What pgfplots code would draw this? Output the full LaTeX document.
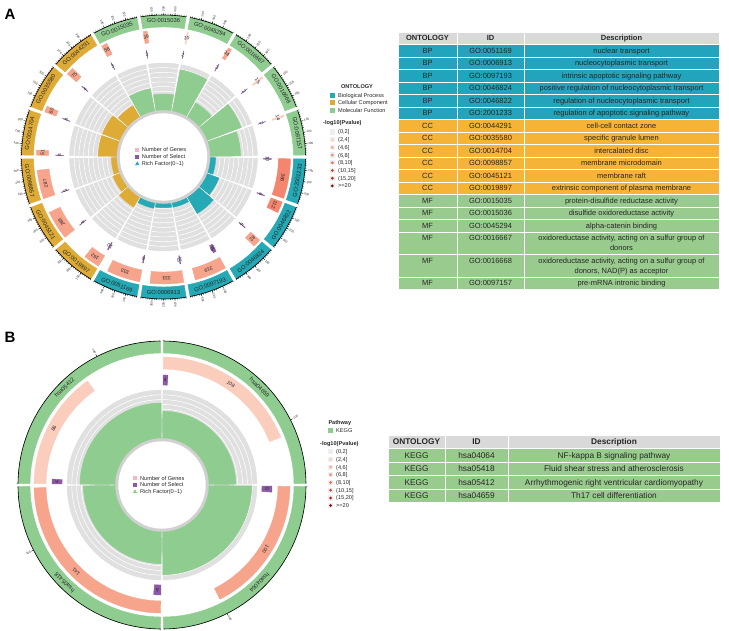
\documentclass[border=0pt]{standalone}
\usepackage{pgfplots}
\pgfplotsset{compat=1.18}
\usepackage{pgfplotstable}
\usepackage{fontspec}
\setmainfont{Liberation Sans}

% ---------- colours ----------
\definecolor{bpC}{HTML}{24A9B5}
\definecolor{ccC}{HTML}{DEAB36}
\definecolor{mfC}{HTML}{8FCC90}
\definecolor{bpT}{HTML}{22A4BC}
\definecolor{ccT}{HTML}{F5B437}
\definecolor{mfT}{HTML}{9ACB8E}
\definecolor{selC}{HTML}{8C59A6}
\definecolor{ringbg}{HTML}{E0E0E0}
\definecolor{rimC}{HTML}{D0D0D0}
\definecolor{hdr}{HTML}{D9D9D9}
\definecolor{keybg}{HTML}{EFEFEF}
\definecolor{genesKey}{HTML}{F5B6C4}
\definecolor{txt}{HTML}{262626}
\definecolor{pA}{HTML}{FCE6DF}
\definecolor{pB}{HTML}{FBCDBD}
\definecolor{pC}{HTML}{F7A48D}
\definecolor{pD}{HTML}{F4866F}
\definecolor{pE}{HTML}{EE6950}
\definecolor{pF}{HTML}{E03B30}
\definecolor{pG}{HTML}{BF1A20}
\definecolor{pH}{HTML}{7D0C16}

% ---------- fonts ----------
\newcommand\ringfont{\fontsize{5}{6}\selectfont}
\newcommand\idfont{\fontsize{5.8}{7}\selectfont}
\newcommand\tickfont{\fontsize{3}{3.5}\selectfont}
\newcommand\legfont{\fontsize{5.6}{6.5}\selectfont}
\newcommand\legtitle{\fontsize{5.6}{6.5}\selectfont\bfseries}
\newcommand\tabA{\fontsize{7.5}{9}\selectfont}
\newcommand\tabB{\fontsize{8.3}{10}\selectfont}

% ---------- helpers ----------
\pgfdeclareplotmark{nothing}{}
\pgfplotsset{ringbase/.style={scatter, only marks, mark=nothing,
    scatter/@post marker code/.code={}}}

% annular sector around the current origin: colour, start, end angle, inner r, outer r (pt)
\newcommand\annulus[5]{%
  \fill[#1] (#2:#4 pt) arc[start angle=#2,end angle=#3,radius=#4 pt]
    -- (#3:#5 pt) arc[start angle=#3,end angle=#2,radius=#5 pt] -- cycle;}
\newcommand\annulusd[5]{%
  \filldraw[#1,line width=0.35pt] (#2:#4 pt) arc[start angle=#2,end angle=#3,radius=#4 pt]
    -- (#3:#5 pt) arc[start angle=#3,end angle=#2,radius=#5 pt] -- cycle;}
% colour names from the numeric codes of the table
\newcommand\ontcolour[1]{\pgfmathtruncatemacro\oci{#1}%
  \ifcase\oci\or\def\vC{bpC}\or\def\vC{ccC}\or\def\vC{mfC}\fi}
\newcommand\pcolour[1]{\pgfmathtruncatemacro\pci{#1}%
  \ifcase\pci\or\def\vP{pA}\or\def\vP{pB}\or\def\vP{pC}\or\def\vP{pD}%
  \or\def\vP{pE}\or\def\vP{pF}\or\def\vP{pG}\or\def\vP{pH}\fi}

% the four tracks of a circular enrichment plot, drawn from one table
\newcommand\circos[1]{%
  % rich factor track (grey scale band, bar on top)
  \addplot[ringbase,
    visualization depends on={\thisrow{c}\as\vT},
    visualization depends on={\thisrow{rf}\as\vF},
    visualization depends on={\thisrow{oc}\as\vO},
    scatter/@pre marker code/.code={%
      \pgfkeys{/pgf/fpu=false}%
      \ontcolour{\vO}%
      \pgfmathsetmacro\vR{\rA+\vF*(\rB-\rA)}%
      \pgfmathsetmacro\aS{\vT+\hs}\pgfmathsetmacro\aE{\vT-\hs}%
      \pgfmathsetmacro\wS{\vT+\hw}\pgfmathsetmacro\wE{\vT-\hw}%
      \pgfscope
      \pgftransformshift{\pgfpointpolar{\vT}{-\vR pt}}%
      \annulus{rimC}{\wS}{\wE}{\rimA}{\rA}%
      \annulus{ringbg}{\aS}{\aE}{\rA}{\rB}%
      \foreach \jj in {1,...,9}{%
        \pgfmathsetmacro\rr{\rA+\jj*(\rB-\rA)/10}%
        \draw[white,line width=0.55pt] (\aS:\rr pt) arc[start angle=\aS,end angle=\aE,radius=\rr pt];}%
      \annulus{\vC}{\aS}{\aE}{\rA}{\vR}%
      \endpgfscope}]
    table[x expr={(\rA+\thisrow{rf}*(\rB-\rA))*cos(\thisrow{c})},
          y expr={(\rA+\thisrow{rf}*(\rB-\rA))*sin(\thisrow{c})}] {#1};
  % number of select track
  \addplot[ringbase,
    visualization depends on={\thisrow{c}\as\vT},
    visualization depends on={\thisrow{sel}\as\vS},
    scatter/@pre marker code/.code={%
      \pgfkeys{/pgf/fpu=false}%
      \pgfmathtruncatemacro\slab{\vS}%
      \pgfmathsetmacro\aS{\vT+\hs}\pgfmathsetmacro\aE{\aS-\vS*\kd}%
      \pgfmathsetmacro\aM{(\aS+\aE)/2}\pgfmathsetmacro\rM{(\sA+\sB)/2}%
      \pgfmathsetmacro\rot{\aM-90}%
      \pgfscope
      \pgftransformshift{\pgfpointpolar{\aM}{-\rM pt}}%
      \annulusd{selC}{\aS}{\aE}{\sA}{\sB}%
      \node[font=\ringfont,text=txt,rotate=\rot,inner sep=0pt] at (\aM:\rM pt) {\slab};
      \endpgfscope}]
    table[x expr={(\sA+\sB)/2*cos(\thisrow{c}+\hs-\thisrow{sel}*\kd/2)},
          y expr={(\sA+\sB)/2*sin(\thisrow{c}+\hs-\thisrow{sel}*\kd/2)}] {#1};
  % number of genes track
  \addplot[ringbase,
    visualization depends on={\thisrow{c}\as\vT},
    visualization depends on={\thisrow{genes}\as\vG},
    visualization depends on={\thisrow{pc}\as\vQ},
    scatter/@pre marker code/.code={%
      \pgfkeys{/pgf/fpu=false}%
      \pcolour{\vQ}%
      \pgfmathtruncatemacro\glab{\vG}%
      \pgfmathsetmacro\aS{\vT+\hs}\pgfmathsetmacro\aE{\aS-\vG*\kd}%
      \pgfmathsetmacro\aM{(\aS+\aE)/2}\pgfmathsetmacro\rM{(\gA+\gB)/2}%
      \pgfmathsetmacro\rot{\aM-90}%
      \pgfscope
      \pgftransformshift{\pgfpointpolar{\aM}{-\rM pt}}%
      \annulus{\vP}{\aS}{\aE}{\gA}{\gB}%
      \node[font=\ringfont,text=txt,rotate=\rot,inner sep=0pt] at (\aM:\rM pt) {\glab};
      \endpgfscope}]
    table[x expr={(\gA+\gB)/2*cos(\thisrow{c}+\hs-\thisrow{genes}*\kd/2)},
          y expr={(\gA+\gB)/2*sin(\thisrow{c}+\hs-\thisrow{genes}*\kd/2)}] {#1};
  % outer category track with its gene-count ruler; the term ID is the point meta
  \addplot[ringbase, point meta=explicit symbolic,
    visualization depends on={\thisrow{c}\as\vT},
    visualization depends on={\thisrow{oc}\as\vO},
    scatter/@pre marker code/.code={%
      \pgfkeys{/pgf/fpu=false}%
      \ontcolour{\vO}%
      \pgfmathsetmacro\aS{\vT+\hs}\pgfmathsetmacro\aE{\vT-\hs}%
      \pgfmathsetmacro\rM{(\oA+\oB)/2}%
      \pgfmathsetmacro\rTa{\oB+1.3}\pgfmathsetmacro\rTb{\oB+2.4}\pgfmathsetmacro\rTc{\oB+3.2}%
      \pgfmathsetmacro\sn{sin(\vT)}%
      \pgfmathsetmacro\rot{\vT-90}%
      \ifnum\flipid=1 \ifdim\sn pt<0pt \pgfmathsetmacro\rot{\vT+90}\fi\fi
      \pgfscope
      \pgftransformshift{\pgfpointpolar{\vT}{-\rM pt}}%
      \annulus{\vC}{\aS}{\aE}{\oA}{\oB}%
      \node[font=\idfont,text=txt,rotate=\rot,inner sep=0pt] at (\vT:\rM pt) {\pgfplotspointmeta};
      \draw[black,line width=0.6pt] (\aS:\oB pt) arc[start angle=\aS,end angle=\aE,radius=\oB pt];
      \foreach \jj in {0,...,\nmin}{%
        \pgfmathsetmacro\tka{\aS-\jj*\minstep*\kd}%
        \draw[black,line width=0.3pt] (\tka:\oB pt) -- (\tka:\rTa pt);}%
      \foreach \mm in \majlist{%
        \pgfmathsetmacro\tka{\aS-\mm*\kd}%
        \pgfmathsetmacro\vcs{cos(\tka)}%
        \draw[black,line width=0.4pt] (\tka:\oB pt) -- (\tka:\rTb pt);
        \ifdim\vcs pt<0pt
          \pgfmathsetmacro\tro{\tka+180}%
          \node[font=\tickfont,text=txt,rotate=\tro,anchor=east,inner sep=0pt] at (\tka:\rTc pt) {\mm};
        \else
          \node[font=\tickfont,text=txt,rotate=\tka,anchor=west,inner sep=0pt] at (\tka:\rTc pt) {\mm};
        \fi}%
      \endpgfscope}]
    table[meta=id, x expr={(\oA+\oB)/2*cos(\thisrow{c})},
          y expr={(\oA+\oB)/2*sin(\thisrow{c})}] {#1};
}

% ---------- data ----------
% c: sector centre (deg); oc: 1 BP, 2 CC, 3 MF; genes: number of genes;
% sel: number of select; rf: rich factor on the 0-1 track scale;
% pc: -log10(P) class, 1 = (0,2] ... 8 = >=20
\pgfplotstableread{
c   oc genes sel rf    pc id
10  3  14    2   0.64  2  GO:0097157
30  3  15    2   0.77  2  GO:0016668
50  3  34    3   0.34  3  GO:0016667
70  3  10    2   0.89  2  GO:0045294
90  3  39    3   0.34  3  GO:0015036
110 3  58    3   0.48  3  GO:0015035
130 2  75    4   0.27  3  GO:0044291
150 2  60    4   0.39  3  GO:0035580
170 2  51    4   0.39  3  GO:0014704
190 2  287   5   0.11  3  GO:0098857
210 2  289   4   0.15  3  GO:0045121
230 2  162   10  0.24  3  GO:0019897
250 1  333   8   0.11  3  GO:0051169
270 1  333   10  0.08  3  GO:0006913
290 1  319   38  0.09  3  GO:0097193
310 1  82    6   0.40  3  GO:0046824
330 1  112   6   0.26  4  GO:0046822
350 1  396   10  0.11  4  GO:2001233
}\goA

\pgfplotstableread{
c   oc genes sel rf    pc id
45  3  108   4   0.56  2  hsa04659
135 3  86    4   0.73  2  hsa05412
225 3  141   6   0.66  3  hsa05418
315 3  100   5   0.89  3  hsa04064
}\keggB

% ---------- table rows ----------
\newcommand\cellsA[3]{% top, height, fill
  \filldraw[fill=#3,draw=white,line width=0.9pt] (398,#1) rectangle (457,#1+#2);
  \filldraw[fill=#3,draw=white,line width=0.9pt] (457,#1) rectangle (524,#1+#2);
  \filldraw[fill=#3,draw=white,line width=0.9pt] (524,#1) rectangle (719,#1+#2);}
\newcommand\trowA[5]{% top, fill, ontology, id, description
  \cellsA{#1}{12.5}{#2}
  \node[font=\tabA,text=txt,anchor=base,inner sep=0pt] at (427.5,#1+9) {#3};
  \node[font=\tabA,text=txt,anchor=base,inner sep=0pt] at (490.5,#1+9) {#4};
  \node[font=\tabA,text=txt,anchor=base,inner sep=0pt] at (621.5,#1+9) {#5};}
\newcommand\trowAA[6]{% two-line row
  \cellsA{#1}{22.5}{#2}
  \node[font=\tabA,text=txt,anchor=base,inner sep=0pt] at (427.5,#1+9) {#3};
  \node[font=\tabA,text=txt,anchor=base,inner sep=0pt] at (490.5,#1+9) {#4};
  \node[font=\tabA,text=txt,anchor=base,inner sep=0pt] at (621.5,#1+9) {#5};
  \node[font=\tabA,text=txt,anchor=base,inner sep=0pt] at (621.5,#1+19) {#6};}
\newcommand\trowB[5]{% top, fill, ontology, id, description
  \filldraw[fill=#2,draw=white,line width=0.9pt] (388,#1) rectangle (445,#1+13.5);
  \filldraw[fill=#2,draw=white,line width=0.9pt] (445,#1) rectangle (508,#1+13.5);
  \filldraw[fill=#2,draw=white,line width=0.9pt] (508,#1) rectangle (720,#1+13.5);
  \node[font=\tabB,text=txt,anchor=base,inner sep=0pt] at (416.5,#1+9.8) {#3};
  \node[font=\tabB,text=txt,anchor=base,inner sep=0pt] at (476.5,#1+9.8) {#4};
  \node[font=\tabB,text=txt,anchor=base,inner sep=0pt] at (614,#1+9.8) {#5};}

\begin{document}
\begin{tikzpicture}
\useasboundingbox (0pt,0pt) rectangle (729pt,-631pt);

% ================= panel A circle =================
\def\hs{9.2}\def\hw{10}\def\kd{0.046}
\def\rimA{44}\def\rA{47}\def\rB{94}
\def\sA{100}\def\sB{108}
\def\gA{115}\def\gB{127}
\def\oA{130}\def\oB{142}
\def\flipid{1}\def\nmin{20}\def\minstep{20}\def\majlist{100,200,300}
\begin{axis}[at={(163.5pt,-157pt)},anchor=origin,hide axis,scale only axis,
  width=300pt,height=300pt,xmin=-150,xmax=150,ymin=-150,ymax=150,clip=false]
  \circos{\goA}
\end{axis}

% ================= panel B circle =================
\def\hs{44.4}\def\hw{45}\def\kd{0.625}
\def\rimA{44}\def\rA{47}\def\rB{95}
\def\sA{100}\def\sB{110}
\def\gA{116}\def\gB{128}
\def\oA{132}\def\oB{144}
\def\flipid{0}\def\nmin{0}\def\minstep{10}\def\majlist{100}
\begin{axis}[at={(162pt,-485pt)},anchor=origin,hide axis,scale only axis,
  width=300pt,height=300pt,xmin=-150,xmax=150,ymin=-150,ymax=150,clip=false]
  \circos{\keggB}
\end{axis}

\begin{scope}[x=1pt,y=-1pt]
% panel letters
\node[font=\fontsize{15}{15}\selectfont\bfseries,anchor=base west,inner sep=0pt] at (4.5,19.5) {A};
\node[font=\fontsize{15}{15}\selectfont\bfseries,anchor=base west,inner sep=0pt] at (4.5,342.5) {B};

% ---- legend inside circle A ----
\fill[genesKey] (135.3,148) rectangle (139.3,152);
\node[font=\legfont,text=txt,anchor=base west,inner sep=0pt] at (141.7,152) {Number of Genes};
\fill[selC] (135.3,154.7) rectangle (139.3,158.7);
\node[font=\legfont,text=txt,anchor=base west,inner sep=0pt] at (141.7,158.7) {Number of Select};
\fill[bpC] (135.1,165.2) -- (139.5,165.2) -- (137.3,161.3) -- cycle;
\node[font=\legfont,text=txt,anchor=base west,inner sep=0pt] at (141.7,165.3) {Rich Factor(0\textasciitilde1)};

% ---- legend inside circle B ----
\fill[genesKey] (133,476.3) rectangle (137,480.3);
\node[font=\legfont,text=txt,anchor=base west,inner sep=0pt] at (140,480.3) {Number of Genes};
\fill[selC] (133,482.7) rectangle (137,486.7);
\node[font=\legfont,text=txt,anchor=base west,inner sep=0pt] at (140,486.7) {Number of Select};
\fill[mfC] (132.8,493.2) -- (137.2,493.2) -- (135,489.3) -- cycle;
\node[font=\legfont,text=txt,anchor=base west,inner sep=0pt] at (140,493.2) {Rich Factor(0\textasciitilde1)};

% ---- legend A ----
\node[font=\legtitle,text=txt,anchor=base,inner sep=0pt] at (357,89) {ONTOLOGY};
\foreach \y/\c/\t in {95.5/bpC/Biological Process,103/ccC/Cellular Component,110.5/mfC/Molecular Function}{
  \fill[\c] (329.8,\y-2.5) rectangle (334.8,\y+2.5);
  \node[font=\legfont,text=txt,anchor=base west,inner sep=0pt] at (338,\y+2) {\t};}
\node[font=\legtitle,text=txt,anchor=base west,inner sep=0pt] at (323,125) {-log10(Pvalue)};
\foreach \y/\c/\t in {132/pA/{(0,2]},139.7/pB/{(2,4]},147.4/pC/{(4,6]},155.1/pD/{(6,8]},162.8/pE/{(8,10]},170.5/pF/{(10,15]},178.2/pG/{(15,20]},185.9/pH/{>=20}}{
  \fill[keybg] (329.7,\y-2.6) rectangle (334.9,\y+2.6);
  \fill[\c] (332.3,\y) circle (1.5);
  \node[font=\legfont,text=txt,anchor=base west,inner sep=0pt] at (338,\y+2) {\t};}

% ---- legend B ----
\node[font=\legtitle,text=txt,anchor=base west,inner sep=0pt] at (328.3,424) {Pathway};
\fill[mfC] (328.2,427.5) rectangle (333,432.5);
\node[font=\legfont,text=txt,anchor=base west,inner sep=0pt] at (336,432) {KEGG};
\node[font=\legtitle,text=txt,anchor=base west,inner sep=0pt] at (320,445) {-log10(Pvalue)};
\foreach \y/\c/\t in {451.7/pA/{(0,2]},459.4/pB/{(2,4]},467.1/pC/{(4,6]},474.8/pD/{(6,8]},482.5/pE/{(8,10]},490.2/pF/{(10,15]},497.9/pG/{(15,20]},505.6/pH/{>=20}}{
  \fill[keybg] (328,\y-2.6) rectangle (333.2,\y+2.6);
  \fill[\c] (330.6,\y) circle (1.5);
  \node[font=\legfont,text=txt,anchor=base west,inner sep=0pt] at (336,\y+2) {\t};}

% ---- table A ----
\cellsA{32}{12.5}{hdr}
\node[font=\tabA\bfseries,text=txt,anchor=base,inner sep=0pt] at (427.5,41) {ONTOLOGY};
\node[font=\tabA\bfseries,text=txt,anchor=base,inner sep=0pt] at (490.5,41) {ID};
\node[font=\tabA\bfseries,text=txt,anchor=base,inner sep=0pt] at (621.5,41) {Description};
\trowA{44.5}{bpT}{BP}{GO:0051169}{nuclear transport}
\trowA{57}{bpT}{BP}{GO:0006913}{nucleocytoplasmic transport}
\trowA{69.5}{bpT}{BP}{GO:0097193}{intrinsic apoptotic signaling pathway}
\trowA{82}{bpT}{BP}{GO:0046824}{positive regulation of nucleocytoplasmic transport}
\trowA{94.5}{bpT}{BP}{GO:0046822}{regulation of nucleocytoplasmic transport}
\trowA{107}{bpT}{BP}{GO:2001233}{regulation of apoptotic signaling pathway}
\trowA{119.5}{ccT}{CC}{GO:0044291}{cell-cell contact zone}
\trowA{132}{ccT}{CC}{GO:0035580}{specific granule lumen}
\trowA{144.5}{ccT}{CC}{GO:0014704}{intercalated disc}
\trowA{157}{ccT}{CC}{GO:0098857}{membrane microdomain}
\trowA{169.5}{ccT}{CC}{GO:0045121}{membrane raft}
\trowA{182}{ccT}{CC}{GO:0019897}{extrinsic component of plasma membrane}
\trowA{194.5}{mfT}{MF}{GO:0015035}{protein-disulfide reductase activity}
\trowA{207}{mfT}{MF}{GO:0015036}{disulfide oxidoreductase activity}
\trowA{219.5}{mfT}{MF}{GO:0045294}{alpha-catenin binding}
\trowAA{232}{mfT}{MF}{GO:0016667}{oxidoreductase activity, acting on a sulfur group of}{donors}
\trowAA{254.5}{mfT}{MF}{GO:0016668}{oxidoreductase activity, acting on a sulfur group of}{donors, NAD(P) as acceptor}
\trowA{277}{mfT}{MF}{GO:0097157}{pre-mRNA intronic binding}

% ---- table B ----
\filldraw[fill=hdr,draw=white,line width=0.9pt] (388,435) rectangle (445,448.5);
\filldraw[fill=hdr,draw=white,line width=0.9pt] (445,435) rectangle (508,448.5);
\filldraw[fill=hdr,draw=white,line width=0.9pt] (508,435) rectangle (720,448.5);
\node[font=\tabB\bfseries,text=txt,anchor=base,inner sep=0pt] at (416.5,444.8) {ONTOLOGY};
\node[font=\tabB\bfseries,text=txt,anchor=base,inner sep=0pt] at (476.5,444.8) {ID};
\node[font=\tabB\bfseries,text=txt,anchor=base,inner sep=0pt] at (614,444.8) {Description};
\trowB{448.5}{mfT}{KEGG}{hsa04064}{NF-kappa B signaling pathway}
\trowB{462}{mfT}{KEGG}{hsa05418}{Fluid shear stress and atherosclerosis}
\trowB{475.5}{mfT}{KEGG}{hsa05412}{Arrhythmogenic right ventricular cardiomyopathy}
\trowB{489}{mfT}{KEGG}{hsa04659}{Th17 cell differentiation}
\end{scope}
\end{tikzpicture}
\end{document}
